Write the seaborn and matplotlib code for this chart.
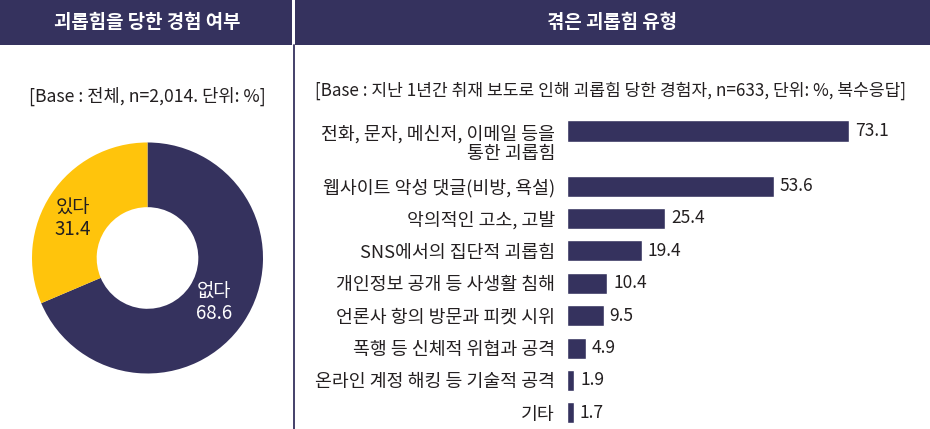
import numpy as np
import matplotlib
matplotlib.use("Agg")
import matplotlib.pyplot as plt
import seaborn as sns
from matplotlib.patches import Rectangle

# data
donut_labels = ["없다", "있다"]
donut_values = [68.6, 31.4]

types = [
    "전화, 문자, 메신저, 이메일 등을\n통한 괴롭힘",
    "웹사이트 악성 댓글(비방, 욕설)",
    "악의적인 고소, 고발",
    "SNS에서의 집단적 괴롭힘",
    "개인정보 공개 등 사생활 침해",
    "언론사 항의 방문과 피켓 시위",
    "폭행 등 신체적 위협과 공격",
    "온라인 계정 해킹 등 기술적 공격",
    "기타",
]
type_values = [73.1, 53.6, 25.4, 19.4, 10.4, 9.5, 4.9, 1.9, 1.7]

left_title = "괴롭힘을 당한 경험 여부"
right_title = "겪은 괴롭힘 유형"
left_base = "[Base : 전체, n=2,014. 단위: %]"
right_base = "[Base : 지난 1년간 취재 보도로 인해 괴롭힘 당한 경험자, n=633, 단위: %, 복수응답]"

NAVY = "#35325e"
YELLOW = "#ffc40c"
TEXT = "#231f20"

sns.set_theme(style="white")
plt.rcParams['font.family'] = ['Noto Sans CJK KR', 'DejaVu Sans']

fig = plt.figure(figsize=(9.3, 4.29), dpi=100)

# background layer in pixel coords: headers, divider, subtitles
bg = fig.add_axes([0, 0, 1, 1])
bg.set_xlim(0, 930)
bg.set_ylim(429, 0)
bg.axis("off")
bg.add_patch(Rectangle((0, 0), 292, 45, color=NAVY, lw=0))
bg.add_patch(Rectangle((295, 0), 635, 45, color=NAVY, lw=0))
bg.plot([293.5, 293.5], [45, 429], color=NAVY, lw=1.3)
bg.text(147, 22, left_title, color="white", fontsize=13.6, fontweight="bold",
        ha="center", va="center")
bg.text(612, 22, right_title, color="white", fontsize=13.6, fontweight="bold",
        ha="center", va="center")
bg.text(147, 96, left_base, color=TEXT, fontsize=12.7, ha="center", va="center")
bg.text(610, 91, right_base, color=TEXT, fontsize=12.3, ha="center", va="center")

# donut
ax_d = fig.add_axes([0.0344, 0.1294, 0.2484, 0.5385])
ax_d.pie(donut_values, colors=[NAVY, YELLOW], startangle=90, counterclock=False,
         radius=1, wedgeprops=dict(width=0.56, linewidth=0))
ax_d.set_xlim(-1, 1)
ax_d.set_ylim(-1, 1)
ax_d.set_aspect("equal")
ax_d.axis("off")
ax_d.text(0.576, -0.39, f"{donut_labels[0]}\n{donut_values[0]}", color="white",
          fontsize=13.5, ha="center", va="center", linespacing=1.05)
ax_d.text(-0.645, 0.338, f"{donut_labels[1]}\n{donut_values[1]}", color=TEXT,
          fontsize=13.5, ha="center", va="center", linespacing=1.05)

# horizontal bars
ax_b = fig.add_axes([0.6097, 0.00737, 0.3731, 0.7326])
pos = np.arange(len(types)) + 0.7 * (np.arange(len(types)) > 0)
sns.barplot(x=type_values, y=pos, orient="y", native_scale=True, color=NAVY,
            saturation=1, width=0.65, ax=ax_b)
ax_b.set_xlim(0, 90)
ax_b.set_ylim(9.1, -0.6)
ticks = pos.copy()
ticks[0] += 0.33
ax_b.set_yticks(ticks)
ax_b.set_yticklabels(types, fontsize=13.2, color=TEXT, ha="right",
                     multialignment="right", linespacing=1.05)
ax_b.tick_params(axis="y", length=0, pad=8.6)
ax_b.set_xticks([])
ax_b.set_xlabel("")
ax_b.set_ylabel("")
ax_b.bar_label(ax_b.containers[0], fmt="%.1f", padding=4.3, fontsize=12.5, color=TEXT)
sns.despine(ax=ax_b, left=True, bottom=True)
ax_b.patch.set_alpha(0)

fig.savefig("out.png", dpi=100)
